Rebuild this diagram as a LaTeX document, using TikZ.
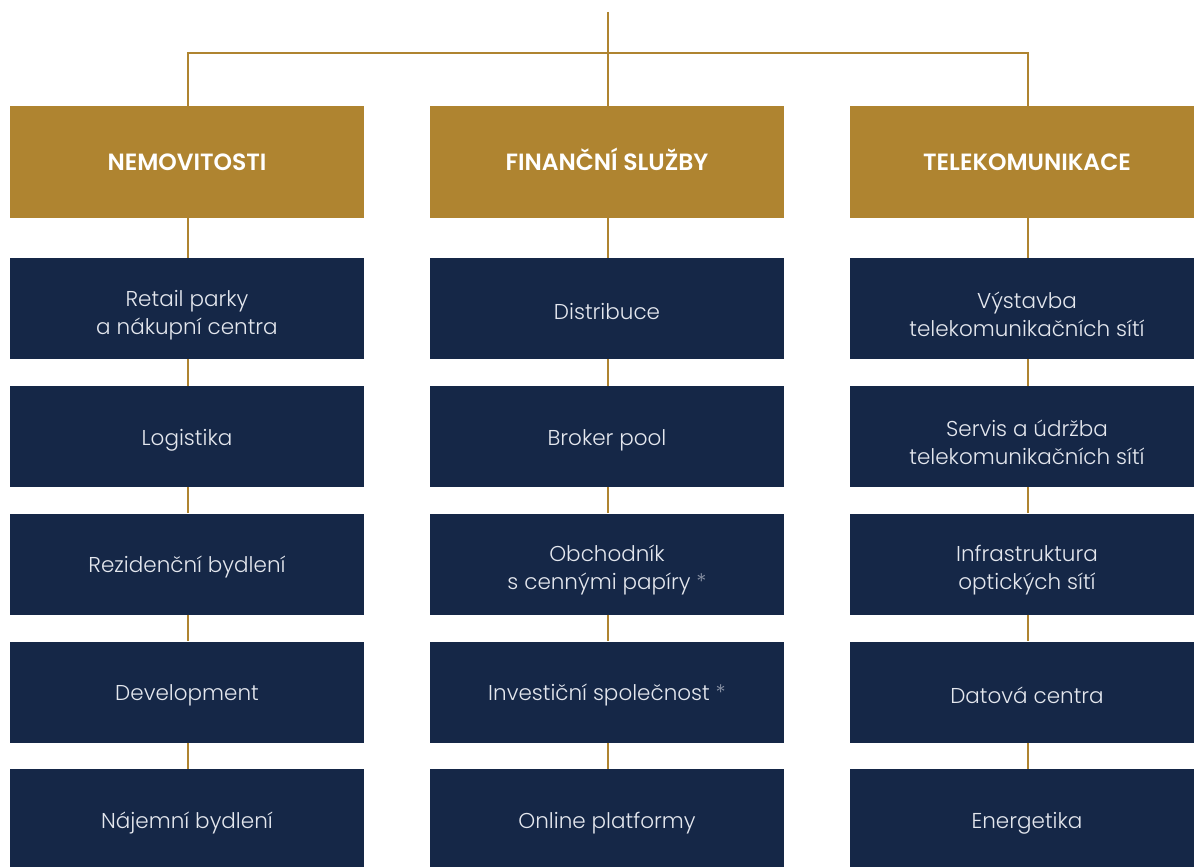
\documentclass[tikz,border=0pt]{standalone}
\usepackage{fontspec}
\setmainfont{Poppins}[UprightFont=* Light, BoldFont=* SemiBold]
\usetikzlibrary{positioning}
\definecolor{gold}{HTML}{AF8430}
\definecolor{navy}{HTML}{152747}
\definecolor{pale}{HTML}{E4E7EE}
\definecolor{star}{HTML}{8A93A6}
\def\ast{\textcolor{star}{*}}

\begin{document}
\begin{tikzpicture}[x=1pt, y=1pt, link/.style={draw=gold, line width=2pt}, head/.style={fill=gold, text=white, font=\fontsize{23.5}{28}\selectfont\bfseries, text height=17pt, text depth=0pt, minimum width=354pt, minimum height=112pt, inner sep=0pt}, unit/.style={fill=navy, text=pale, font=\fontsize{21.5}{28}\selectfont, align=center, minimum width=354pt, minimum height=101pt, inner sep=0pt, execute at begin node={\rule{0pt}{23pt}}}, pair/.style={unit, execute at begin node={\rule{0pt}{57pt}}}]
	\useasboundingbox (0,0) rectangle (1194,-867);
	\coordinate (top) at (608,-12);
	\coordinate (hub) at (608,-53);
	\draw (187,-162)node[head](h1){NEMOVITOSTI};
	\draw (607,-162)node[head](h2){FINANČNÍ SLUŽBY};
	\draw (1027,-162)node[head](h3){TELEKOMUNIKACE};
	\draw (187,-308.5)node[pair](a1){Retail parky\\a nákupní centra};
	\draw (187,-436.5)node[unit](a2){Logistika};
	\draw (187,-564)node[unit](a3){Rezidenční bydlení};
	\draw (187,-692)node[unit](a4){Development};
	\draw (187,-819.5)node[unit](a5){Nájemní bydlení};
	\draw (607,-308.5)node[unit](b1){Distribuce};
	\draw (607,-436.5)node[unit](b2){Broker pool};
	\draw (607,-564)node[pair](b3){Obchodník\\s cennými papíry \ast};
	\draw (607,-692)node[unit](b4){Investiční společnost \ast};
	\draw (607,-819.5)node[unit](b5){Online platformy};
	\draw (1027,-308.5)node[pair](c1){Výstavba\\telekomunikačních sítí};
	\draw (1027,-436.5)node[pair](c2){Servis a údržba\\telekomunikačních sítí};
	\draw (1027,-564)node[pair](c3){Infrastruktura\\optických sítí};
	\draw (1027,-692)node[unit](c4){Datová centra};
	\draw (1027,-819.5)node[unit](c5){Energetika};
	\path[link] (top) -- (hub);
	\path[link] (hub) -| ([xshift=1pt]h1.north);
	\path[link] (hub) -| ([xshift=1pt]h3.north);
	\path[link] (hub) -- (hub |- h2.north);
	\foreach \c/\h in {a/h1,b/h2,c/h3} {
		\path[link] ([xshift=1pt]\h.south) -- ([xshift=1pt]\c1.north);
		\foreach \i [evaluate=\i as \j using int(\i+1)] in {1,2,3,4}
			\path[link] ([xshift=1pt]\c\i.south) -- ([xshift=1pt]\c\j.north);
	}
\end{tikzpicture}
\end{document}
